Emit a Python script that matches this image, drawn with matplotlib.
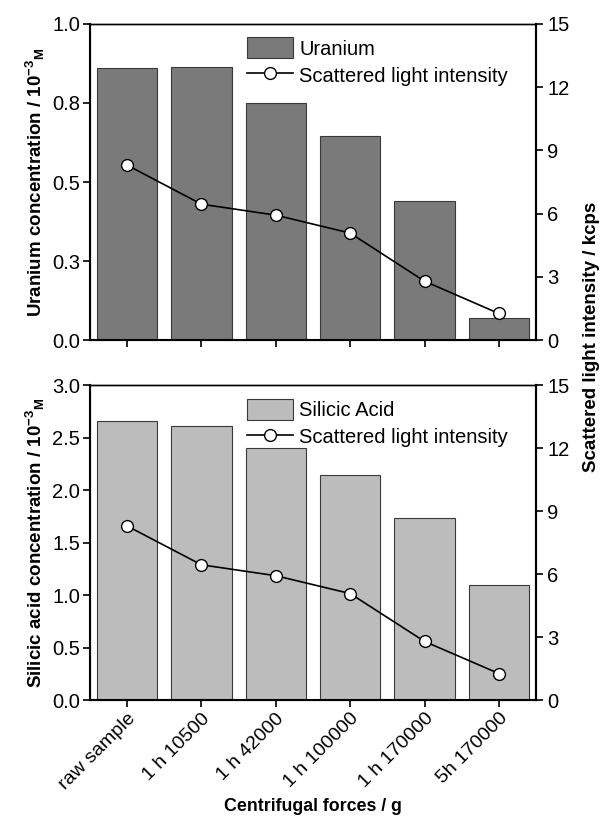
import matplotlib
matplotlib.use("Agg")
import matplotlib.pyplot as plt
import numpy as np

# data
categories = ["raw sample", "1 h 10500", "1 h 42000", "1 h 100000", "1 h 170000", "5h 170000"]
uranium = [0.861, 0.862, 0.75, 0.646, 0.44, 0.07]
silicic = [2.66, 2.61, 2.40, 2.15, 1.74, 1.10]
scatter = [8.3, 6.45, 5.93, 5.08, 2.8, 1.27]

uranium_ticks = [0.0, 0.25, 0.5, 0.75, 1.0]
uranium_ticklabels = ["0.0", "0.3", "0.5", "0.8", "1.0"]
silicic_ticks = [0.0, 0.5, 1.0, 1.5, 2.0, 2.5, 3.0]
scatter_ticks = [0, 3, 6, 9, 12, 15]

plt.rcParams['font.family'] = ['Liberation Sans', 'DejaVu Sans']
plt.rcParams['mathtext.fontset'] = 'custom'
plt.rcParams['mathtext.rm'] = 'Liberation Sans'
plt.rcParams['mathtext.bf'] = 'Liberation Sans:bold'

TICK_FS = 14.5
LAB_FS = 13.5

fig = plt.figure(figsize=(6.03, 8.18), dpi=100)
ax_top = fig.add_axes([0.149, 0.584, 0.740, 0.387])
ax_bot = fig.add_axes([0.149, 0.144, 0.740, 0.385])

x = np.arange(len(categories))


def draw_panel(ax, values, color, label, ylim, yticks, yticklabels, ylabel):
    bars = ax.bar(x, values, width=0.81, color=color, edgecolor='#3a3a3a',
                  linewidth=0.8, label=label)
    ax.set_xlim(-0.5, len(categories) - 0.5)
    ax.set_ylim(*ylim)
    ax.set_yticks(yticks)
    ax.set_yticklabels(yticklabels)
    ax.set_ylabel(ylabel, fontweight='bold', fontsize=LAB_FS, labelpad=4)
    ax.tick_params(direction='out', length=5, width=1.2, labelsize=TICK_FS,
                   pad=2)
    for side in ['left', 'bottom', 'right']:
        ax.spines[side].set_linewidth(1.5)
    ax.spines['top'].set_linewidth(1.0)

    ax2 = ax.twinx()
    line, = ax2.plot(x, scatter, color='black', linewidth=1.2, marker='o',
                     markersize=8.5, markerfacecolor='white',
                     markeredgecolor='black', markeredgewidth=1.0,
                     label='Scattered light intensity')
    ax2.set_ylim(0, 15)
    ax2.set_yticks(scatter_ticks)
    ax2.tick_params(direction='out', length=5, width=1.2, labelsize=TICK_FS,
                    pad=3)
    ax2.spines['right'].set_linewidth(1.5)
    ax2.spines['top'].set_linewidth(1.0)

    ax.legend([bars, line], [label, 'Scattered light intensity'],
              loc='upper left', bbox_to_anchor=(0.325, 0.995), frameon=False,
              fontsize=TICK_FS, handlelength=2.3, handleheight=1.2,
              labelspacing=0.3, handletextpad=0.3, borderaxespad=0.2)
    return ax2


draw_panel(ax_top, uranium, '#7a7a7a', 'Uranium', (0, 1.0),
           uranium_ticks, uranium_ticklabels,
           r"Uranium concentration / $\mathbf{10^{-3}}$$_\mathbf{M}$")
ax_top.set_xticks(x)
ax_top.set_xticklabels([])

draw_panel(ax_bot, silicic, '#bcbcbc', 'Silicic Acid', (0, 3.0),
           silicic_ticks, ["%.1f" % t for t in silicic_ticks],
           r"Silicic acid concentration / $\mathbf{10^{-3}}$$_\mathbf{M}$")
ax_bot.set_xticks(x)
ax_bot.set_xticklabels(categories, rotation=45, ha='right',
                       rotation_mode='anchor', fontsize=TICK_FS - 0.5)
ax_bot.set_xlabel("Centrifugal forces / g", fontweight='bold', fontsize=12.8,
                  labelpad=4)

fig.text(0.981, 0.588, "Scattered light intensity / kcps", rotation=90,
         ha='center', va='center', fontweight='bold', fontsize=LAB_FS)

fig.savefig("out.png", dpi=100)
